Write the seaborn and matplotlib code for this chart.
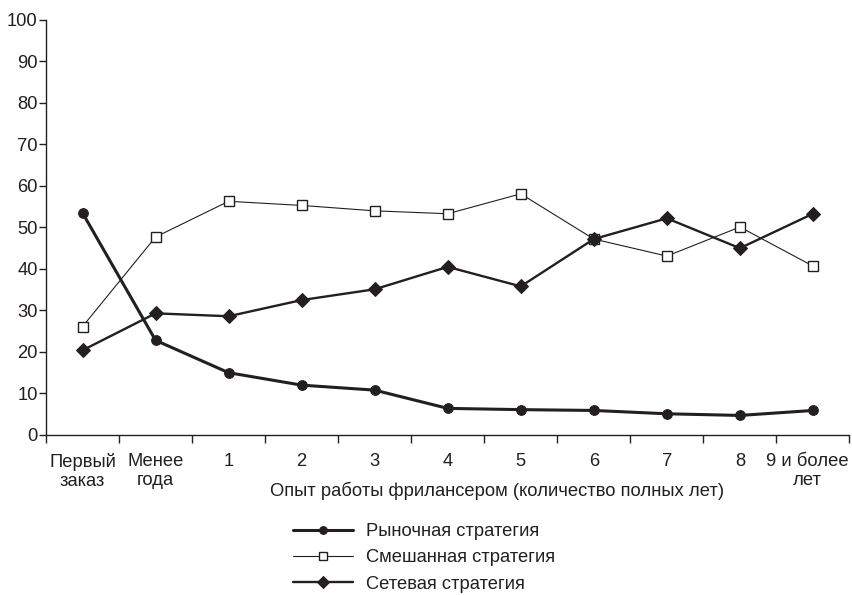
import matplotlib.pyplot as plt
import matplotlib.transforms as mtransforms
import numpy as np
import pandas as pd
import seaborn as sns

# categories on the x axis
categories = ["Первый\nзаказ", "Менее\nгода", "1", "2", "3", "4", "5", "6", "7", "8", "9 и более\nлет"]

# share of freelancers, %
market = [53.5, 22.8, 15.0, 12.0, 10.8, 6.4, 6.1, 5.9, 5.1, 4.7, 5.9]
mixed = [26.1, 47.7, 56.3, 55.3, 54.0, 53.3, 58.1, 47.2, 43.1, 50.1, 40.7]
network = [20.4, 29.3, 28.6, 32.5, 35.1, 40.5, 35.8, 47.2, 52.2, 45.0, 53.3]

names = ["Рыночная стратегия", "Смешанная стратегия", "Сетевая стратегия"]

sns.set_theme(style="ticks")
plt.rcParams["font.family"] = ["Liberation Sans", "DejaVu Sans"]
ink = "#231f20"
fs = 13.2

pos = np.arange(len(categories))
df = pd.DataFrame({"pos": pos, "market": market, "mixed": mixed, "network": network})

fig = plt.figure(figsize=(8.52, 5.95), dpi=100)
ax = fig.add_axes([0.054, 0.269, 0.943, 0.6975])

sns.lineplot(data=df, x="pos", y="market", ax=ax, color=ink, lw=2.2, marker="o",
             ms=7, mfc=ink, mec=ink, label=names[0])
sns.lineplot(data=df, x="pos", y="mixed", ax=ax, color=ink, lw=0.8, marker="s",
             ms=6.5, mfc="white", mec=ink, mew=1.0, label=names[1])
sns.lineplot(data=df, x="pos", y="network", ax=ax, color=ink, lw=1.7, marker="D",
             ms=7.4, mfc=ink, mec=ink, label=names[2])

ax.set_xlim(-0.5, len(categories) - 0.5)
ax.set_ylim(0, 100)
ax.set_yticks(range(0, 101, 10))
ax.set_xticks(np.arange(len(categories) + 1) - 0.5)
ax.set_xticklabels([])
ax.set_xticks(pos, labels=categories, minor=True)
ax.tick_params(axis="x", which="major", length=6, width=1, color=ink, direction="out")
ax.tick_params(axis="x", which="minor", length=0, pad=13, labelsize=fs, labelcolor=ink)
ax.tick_params(axis="y", length=5, width=1, color=ink, pad=1, labelsize=fs, labelcolor=ink)
xlabels = ax.get_xticklabels(minor=True)
for lbl in xlabels:
    lbl.set_linespacing(1.15)
# last label sits at the right edge: nudge it left a little
shift = mtransforms.ScaledTranslation(-6 / 100, 0, fig.dpi_scale_trans)
xlabels[-1].set_transform(xlabels[-1].get_transform() + shift)
ax.set_xlabel("")
ax.set_ylabel("")
sns.despine(ax=ax)
for s in ["left", "bottom"]:
    ax.spines[s].set_color(ink)
    ax.spines[s].set_linewidth(1.0)

fig.text(497 / 852, 1 - 491 / 595, "Опыт работы фрилансером (количество полных лет)",
         ha="center", va="center", fontsize=fs, color=ink)

ax.get_legend().remove()
handles, labels = ax.get_legend_handles_labels()
fig.legend(handles, labels, loc="center", bbox_to_anchor=(424 / 852, 1 - 558 / 595),
           frameon=False, fontsize=fs, handlelength=3.3, handletextpad=0.7,
           labelspacing=0.5, labelcolor=ink, markerscale=0.8)

fig.savefig("out.png", dpi=100)
